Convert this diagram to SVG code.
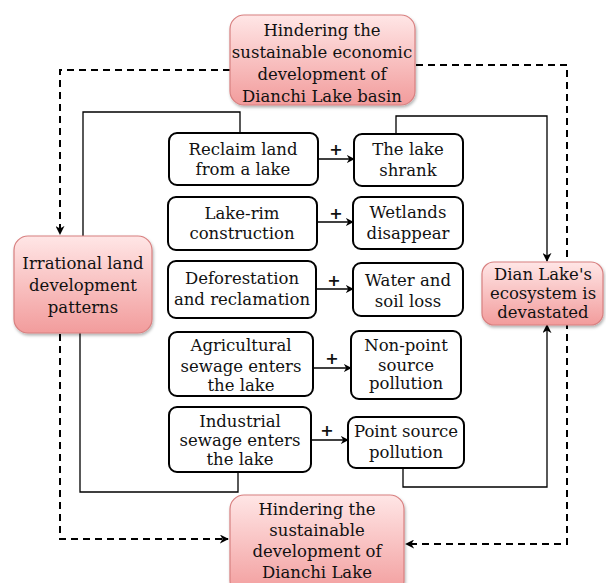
<svg xmlns="http://www.w3.org/2000/svg" width="606" height="583" viewBox="0 0 606 583">
<defs>
<linearGradient id="pink" x1="0" y1="0" x2="0" y2="1">
<stop offset="0" stop-color="#ffe6e6"/>
<stop offset="1" stop-color="#f29c9c"/>
</linearGradient>
<filter id="sh" x="-10%" y="-10%" width="125%" height="130%">
<feDropShadow dx="1" dy="2" stdDeviation="1.5" flood-color="#000" flood-opacity="0.3"/>
</filter>
<marker id="ah" viewBox="0 0 10 10" refX="9" refY="5" markerWidth="8" markerHeight="8" markerUnits="userSpaceOnUse" orient="auto">
<path d="M0,0 L10,5 L0,10 L3,5 Z" fill="#000"/>
</marker>
<marker id="ahs" viewBox="0 0 10 10" refX="9" refY="5" markerWidth="9" markerHeight="9" markerUnits="userSpaceOnUse" orient="auto">
<path d="M0,0 L10,5 L0,10 L3,5 Z" fill="#000"/>
</marker>
</defs>
<style>
.p{fill:url(#pink);stroke:#d88080;stroke-width:1.2;filter:url(#sh)}
.w{fill:#fff;stroke:#000;stroke-width:2}
text{font-family:"DejaVu Serif","Liberation Serif",serif;font-size:16.5px;fill:#111;text-anchor:middle}
.plus{font-family:"DejaVu Sans","Liberation Sans",sans-serif;font-weight:bold;font-size:16px}
.d{fill:none;stroke:#000;stroke-width:2;stroke-dasharray:7,5}
.s{fill:none;stroke:#000;stroke-width:1.3}
</style>
<g id="connectors">
<path class="d" d="M230,70 H60 V234" marker-end="url(#ahs)"/>
<path class="d" d="M60,334 V539 H228" marker-end="url(#ahs)"/>
<path class="d" d="M416,65 H567 V544 H406" marker-end="url(#ahs)"/>
<path class="s" d="M240,133 V112 H83 V236"/>
<path class="s" d="M80,333 V492 H238 V472"/>
<path class="s" d="M396,134 V116 H547 V261" marker-end="url(#ahs)"/>
<path class="s" d="M403,468 V487 H547 V325" marker-end="url(#ahs)"/>
<path class="s" d="M318,159 H354" marker-end="url(#ah)"/>
<path class="s" d="M317,222 H353" marker-end="url(#ah)"/>
<path class="s" d="M316,289 H353" marker-end="url(#ah)"/>
<path class="s" d="M313,368 H351" marker-end="url(#ah)"/>
<path class="s" d="M311,440 H348" marker-end="url(#ah)"/>
<text class="plus" x="336" y="155">+</text>
<text class="plus" x="336" y="219">+</text>
<text class="plus" x="334" y="286">+</text>
<text class="plus" x="332" y="364">+</text>
<text class="plus" x="327" y="436">+</text>
</g>
<g id="top">
<rect class="p" x="230" y="15" width="185" height="90" rx="14"/>
<text x="322" y="36">Hindering the</text>
<text x="322" y="58">sustainable economic</text>
<text x="322" y="80">development of</text>
<text x="322" y="102">Dianchi Lake basin</text>
</g>
<g id="irrational">
<rect class="p" x="14" y="236" width="138" height="97" rx="14"/>
<text x="83" y="269">Irrational land</text>
<text x="83" y="291">development</text>
<text x="83" y="313">patterns</text>
</g>
<g id="dian">
<rect class="p" x="482" y="262" width="121" height="63" rx="12"/>
<text x="543" y="280">Dian Lake's</text>
<text x="543" y="299">ecosystem is</text>
<text x="543" y="318">devastated</text>
</g>
<g id="bottom">
<rect class="p" x="230" y="495" width="174" height="100" rx="14"/>
<text x="317" y="515">Hindering the</text>
<text x="317" y="536">sustainable</text>
<text x="317" y="557">development of</text>
<text x="317" y="578">Dianchi Lake</text>
</g>
<g id="reclaim">
<rect class="w" x="169" y="133" width="149" height="52" rx="8"/>
<text x="243" y="155">Reclaim land</text>
<text x="243" y="175">from a lake</text>
</g>
<g id="shrank">
<rect class="w" x="354" y="134" width="109" height="52" rx="8"/>
<text x="408" y="155">The lake</text>
<text x="408" y="176">shrank</text>
</g>
<g id="lakerim">
<rect class="w" x="168" y="197" width="149" height="53" rx="8"/>
<text x="242" y="219">Lake-rim</text>
<text x="242" y="239">construction</text>
</g>
<g id="wetlands">
<rect class="w" x="353" y="197" width="110" height="52" rx="8"/>
<text x="408" y="218">Wetlands</text>
<text x="408" y="239">disappear</text>
</g>
<g id="deforest">
<rect class="w" x="168" y="261" width="148" height="57" rx="8"/>
<text x="242" y="284">Deforestation</text>
<text x="242" y="305">and reclamation</text>
</g>
<g id="water">
<rect class="w" x="353" y="263" width="110" height="53" rx="8"/>
<text x="408" y="286">Water and</text>
<text x="408" y="307">soil loss</text>
</g>
<g id="agri">
<rect class="w" x="169" y="332" width="144" height="64" rx="8"/>
<text x="241" y="351">Agricultural</text>
<text x="241" y="372">sewage enters</text>
<text x="241" y="391">the lake</text>
</g>
<g id="nonpoint">
<rect class="w" x="351" y="331" width="110" height="68" rx="8"/>
<text x="406" y="351">Non-point</text>
<text x="406" y="371">source</text>
<text x="406" y="389">pollution</text>
</g>
<g id="industrial">
<rect class="w" x="169" y="407" width="142" height="65" rx="8"/>
<text x="240" y="427">Industrial</text>
<text x="240" y="446">sewage enters</text>
<text x="240" y="465">the lake</text>
</g>
<g id="pointsource">
<rect class="w" x="348" y="417" width="116" height="51" rx="8"/>
<text x="406" y="437">Point source</text>
<text x="406" y="458">pollution</text>
</g>
</svg>
